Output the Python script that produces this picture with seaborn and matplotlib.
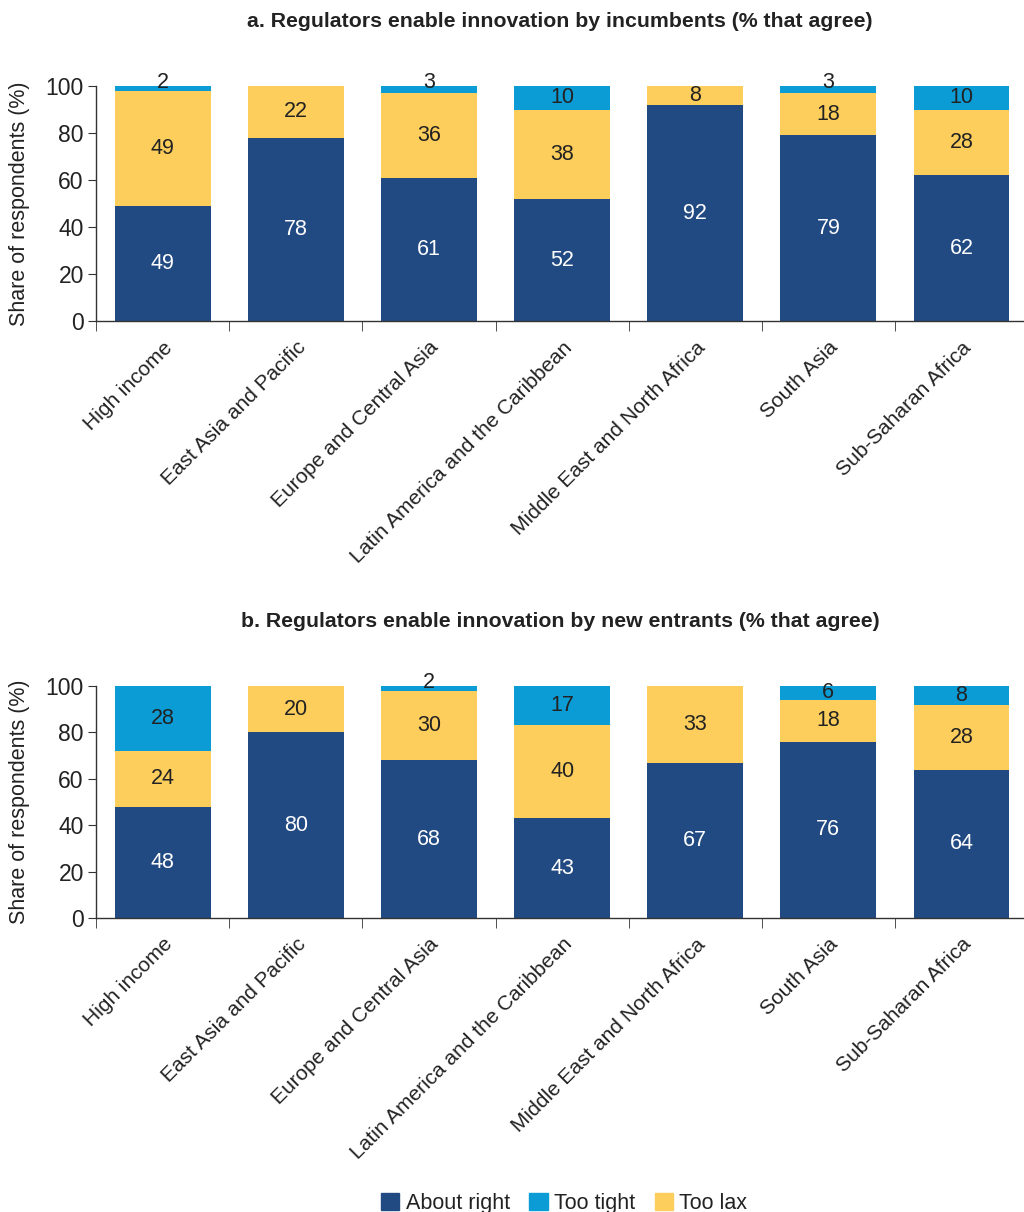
import matplotlib
matplotlib.use("Agg")
import matplotlib.pyplot as plt
import matplotlib.patches as mpatches
import seaborn as sns
import pandas as pd

regions = ["High income", "East Asia and Pacific", "Europe and Central Asia",
           "Latin America and the Caribbean", "Middle East and North Africa",
           "South Asia", "Sub-Saharan Africa"]

# pannello a: incumbents
a_about_right = [49, 78, 61, 52, 92, 79, 62]
a_too_lax = [49, 22, 36, 38, 8, 18, 28]
a_too_tight = [2, 0, 3, 10, 0, 3, 10]

# pannello b: new entrants
b_about_right = [48, 80, 68, 43, 67, 76, 64]
b_too_lax = [24, 20, 30, 40, 33, 18, 28]
b_too_tight = [28, 0, 2, 17, 0, 6, 8]

titles = ["a. Regulators enable innovation by incumbents (% that agree)",
          "b. Regulators enable innovation by new entrants (% that agree)"]

DARK = "#224a82"
TIGHT = "#0b9bd5"
LAX = "#fdce5b"

sns.set_style("white")
plt.rcParams["font.family"] = ["Liberation Sans", "DejaVu Sans"]

fig = plt.figure(figsize=(10.24, 12.12), dpi=100)

panels = [
    (a_about_right, a_too_lax, a_too_tight, [0.094, 0.735, 0.906, 0.194], 0.982),
    (b_about_right, b_too_lax, b_too_tight, [0.094, 0.2426, 0.906, 0.1914], 0.487),
]

for (about, lax, tight, pos, ty), title in zip(panels, titles):
    ax = fig.add_axes(pos)
    df = pd.DataFrame({"Regione": regions, "About right": about,
                       "Too lax": lax, "Too tight": tight})
    df["lax_top"] = df["About right"] + df["Too lax"]
    df["tight_top"] = df["lax_top"] + df["Too tight"]

    # barre sovrapposte (dal totale verso il basso)
    for col, c in [("tight_top", TIGHT), ("lax_top", LAX), ("About right", DARK)]:
        sns.barplot(data=df, x="Regione", y=col, color=c, width=0.72,
                    saturation=1, linewidth=0, edgecolor="none", ax=ax)

    # etichette dei valori
    for i, row in df.iterrows():
        ax.text(i, row["About right"] / 2, f"{row['About right']}", color="white",
                ha="center", va="center", fontsize=15.5)
        if row["Too lax"] > 0:
            ax.text(i, row["About right"] + row["Too lax"] / 2, f"{row['Too lax']}",
                    color="#222222", ha="center", va="center", fontsize=15.5)
        if row["Too tight"] > 0:
            y = row["lax_top"] + row["Too tight"] / 2
            if row["Too tight"] <= 3:
                y = 101.5
            ax.text(i, y, f"{row['Too tight']}", color="#222222",
                    ha="center", va="center", fontsize=15.5, clip_on=False)

    ax.set_ylim(0, 100)
    ax.set_xlim(-0.5, 6.47)
    ax.set_yticks([0, 20, 40, 60, 80, 100])
    ax.tick_params(axis="y", labelsize=16.5, length=6, color="#333333", left=True,
                   labelcolor="#222222", pad=3)
    ax.set_ylabel("Share of respondents (%)", fontsize=15.5, color="#222222")
    ax.yaxis.set_label_coords(-0.071, 0.5)
    ax.set_xlabel("")
    ax.set_xticks(range(len(regions)))
    ax.set_xticklabels(regions, rotation=45, ha="right", rotation_mode="anchor",
                       fontsize=15, color="#222222")
    ax.tick_params(axis="x", which="major", length=0, pad=12)
    ax.set_xticks([x - 0.5 for x in range(len(regions))], minor=True)
    ax.tick_params(axis="x", which="minor", length=7, color="#333333", bottom=True)
    for s in ["top", "right"]:
        ax.spines[s].set_visible(False)
    for s in ["left", "bottom"]:
        ax.spines[s].set_color("#333333")
        ax.spines[s].set_linewidth(1.0)
    ax.grid(False)

    fig.text(0.547, ty, title, ha="center", va="center", fontsize=15.3,
             fontweight="bold", color="#222222")

handles = [mpatches.Patch(color=DARK, label="About right"),
           mpatches.Patch(color=TIGHT, label="Too tight"),
           mpatches.Patch(color=LAX, label="Too lax")]
fig.legend(handles=handles, loc="center", bbox_to_anchor=(0.551, 0.007), ncol=3,
           frameon=False, fontsize=15.5, handlelength=0.85, handleheight=0.85,
           handletextpad=0.3, columnspacing=0.9, labelcolor="#222222")

fig.savefig("out.png", dpi=100)
